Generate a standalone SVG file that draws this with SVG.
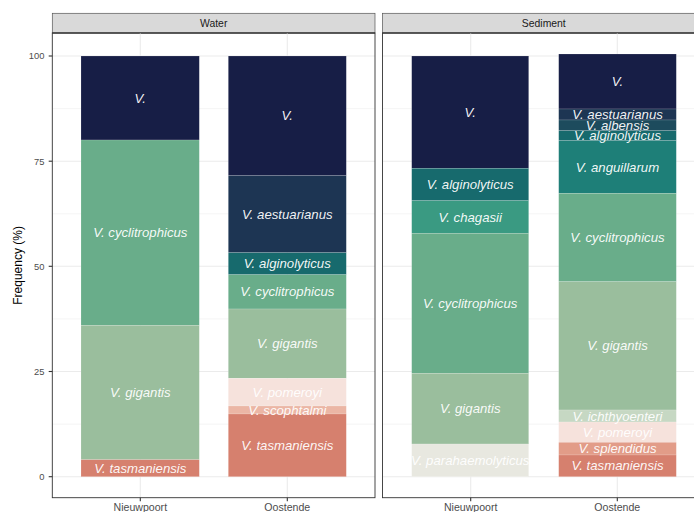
<svg xmlns="http://www.w3.org/2000/svg" width="694" height="512" viewBox="0 0 694 512">
<style>
.bg{fill:#FFFFFF}
.gmaj{stroke:#EBEBEB;stroke-width:1.1;fill:none}
.gmin{stroke:#EBEBEB;stroke-width:0.55;fill:none}
.border{fill:none;stroke:#333333;stroke-width:0.9}
.strip{fill:#D9D9D9;stroke:#555555;stroke-width:0.7}
.strip-line{stroke:#333333;stroke-width:1.2}
.strip-t{font-family:"Liberation Sans",Arial,sans-serif;font-size:10.4px;fill:#1A1A1A;text-anchor:middle}
.tick{stroke:#333333;stroke-width:1.1}
.ytxt{font-family:"Liberation Sans",Arial,sans-serif;font-size:9.4px;fill:#4D4D4D;text-anchor:end}
.xtxt{font-family:"Liberation Sans",Arial,sans-serif;font-size:10.6px;fill:#4D4D4D;text-anchor:middle}
.ttl{font-family:"Liberation Sans",Arial,sans-serif;font-size:12px;fill:#000000;text-anchor:middle}
.seg rect{stroke:#FFFFFF;stroke-opacity:0.3;stroke-width:0.5}
.lbl{font-family:"Liberation Sans",Arial,sans-serif;font-size:13.2px;font-style:italic;fill:#FFFFFF;fill-opacity:0.95;text-anchor:middle;dominant-baseline:central}
.navy{fill:#171E46}.aes{fill:#1D3553}.alb{fill:#1D4B5D}.alg{fill:#176A6D}.ang{fill:#1E7F78}
.cha{fill:#3A9A82}.cyc{fill:#69AD8A}.gig{fill:#9ABE9D}.ich{fill:#C6D8C3}.par{fill:#E8E8E0}
.pom{fill:#F6E2DC}.sco{fill:#EBB6A5}.spl{fill:#E29C88}.tas{fill:#D6806E}
</style>
<rect class="bg" x="0" y="0" width="694" height="512"/>

<!-- Water panel -->
<g id="panel-water">
  <rect class="strip" x="52.3" y="13.3" width="322.7" height="19.7"/>
  <line class="strip-line" x1="52.3" x2="375" y1="33" y2="33"/>
  <text class="strip-t" x="213.7" y="26.7">Water</text>
  <g id="grid-water">
    <line class="gmin" x1="52.3" x2="375" y1="424.1" y2="424.1"/>
    <line class="gmin" x1="52.3" x2="375" y1="318.9" y2="318.9"/>
    <line class="gmin" x1="52.3" x2="375" y1="213.8" y2="213.8"/>
    <line class="gmin" x1="52.3" x2="375" y1="108.6" y2="108.6"/>
    <line class="gmaj" x1="52.3" x2="375" y1="476.7" y2="476.7"/>
    <line class="gmaj" x1="52.3" x2="375" y1="371.5" y2="371.5"/>
    <line class="gmaj" x1="52.3" x2="375" y1="266.3" y2="266.3"/>
    <line class="gmaj" x1="52.3" x2="375" y1="161.2" y2="161.2"/>
    <line class="gmaj" x1="52.3" x2="375" y1="56" y2="56"/>
    <line class="gmaj" x1="140.3" x2="140.3" y1="33" y2="497.7"/>
    <line class="gmaj" x1="287.3" x2="287.3" y1="33" y2="497.7"/>
  </g>
  <g id="bar-water-nieuwpoort" class="seg">
    <rect class="navy" x="81" y="56" width="118.3" height="84"/>
    <rect class="cyc" x="81" y="140" width="118.3" height="185.3"/>
    <rect class="gig" x="81" y="325.3" width="118.3" height="134.4"/>
    <rect class="tas" x="81" y="459.7" width="118.3" height="17"/>
    <text class="lbl" x="140.3" y="98">V.</text>
    <text class="lbl" x="140.3" y="232.7">V. cyclitrophicus</text>
    <text class="lbl" x="140.3" y="392.5">V. gigantis</text>
    <text class="lbl" x="140.3" y="468.2">V. tasmaniensis</text>
  </g>
  <g id="bar-water-oostende" class="seg">
    <rect class="navy" x="228.3" y="56" width="118" height="119.7"/>
    <rect class="aes" x="228.3" y="175.7" width="118" height="77"/>
    <rect class="alg" x="228.3" y="252.7" width="118" height="22"/>
    <rect class="cyc" x="228.3" y="274.7" width="118" height="34.3"/>
    <rect class="gig" x="228.3" y="309" width="118" height="69.3"/>
    <rect class="pom" x="228.3" y="378.3" width="118" height="27.7"/>
    <rect class="sco" x="228.3" y="406" width="118" height="8"/>
    <rect class="tas" x="228.3" y="414" width="118" height="62.7"/>
    <text class="lbl" x="287.3" y="115.8">V.</text>
    <text class="lbl" x="287.3" y="214.2">V. aestuarianus</text>
    <text class="lbl" x="287.3" y="263.7">V. alginolyticus</text>
    <text class="lbl" x="287.3" y="291.8">V. cyclitrophicus</text>
    <text class="lbl" x="287.3" y="343.6">V. gigantis</text>
    <text class="lbl" x="287.3" y="392.9">V. pomeroyi</text>
    <text class="lbl" x="287.3" y="410">V. scophtalmi</text>
    <text class="lbl" x="287.3" y="445.3">V. tasmaniensis</text>
  </g>
  <rect class="border" x="52.3" y="33" width="322.7" height="464.7"/>
</g>

<!-- Sediment panel -->
<g id="panel-sediment">
  <rect class="strip" x="382.5" y="13.3" width="322.7" height="19.7"/>
  <line class="strip-line" x1="382.5" x2="705" y1="33" y2="33"/>
  <text class="strip-t" x="543.8" y="26.7">Sediment</text>
  <g id="grid-sediment">
    <line class="gmin" x1="382.5" x2="705" y1="424.1" y2="424.1"/>
    <line class="gmin" x1="382.5" x2="705" y1="318.9" y2="318.9"/>
    <line class="gmin" x1="382.5" x2="705" y1="213.8" y2="213.8"/>
    <line class="gmin" x1="382.5" x2="705" y1="108.6" y2="108.6"/>
    <line class="gmaj" x1="382.5" x2="705" y1="476.7" y2="476.7"/>
    <line class="gmaj" x1="382.5" x2="705" y1="371.5" y2="371.5"/>
    <line class="gmaj" x1="382.5" x2="705" y1="266.3" y2="266.3"/>
    <line class="gmaj" x1="382.5" x2="705" y1="161.2" y2="161.2"/>
    <line class="gmaj" x1="382.5" x2="705" y1="56" y2="56"/>
    <line class="gmaj" x1="470.7" x2="470.7" y1="33" y2="497.7"/>
    <line class="gmaj" x1="617.3" x2="617.3" y1="33" y2="497.7"/>
  </g>
  <g id="bar-sediment-nieuwpoort" class="seg">
    <rect class="navy" x="411.7" y="56" width="117" height="112.3"/>
    <rect class="alg" x="411.7" y="168.3" width="117" height="32.4"/>
    <rect class="cha" x="411.7" y="200.7" width="117" height="32.6"/>
    <rect class="cyc" x="411.7" y="233.3" width="117" height="140"/>
    <rect class="gig" x="411.7" y="373.3" width="117" height="70.7"/>
    <rect class="par" x="411.7" y="444" width="117" height="32.7"/>
    <text class="lbl" x="470.2" y="112">V.</text>
    <text class="lbl" x="470.2" y="184.5">V. alginolyticus</text>
    <text class="lbl" x="470.2" y="217">V. chagasii</text>
    <text class="lbl" x="470.2" y="303.3">V. cyclitrophicus</text>
    <text class="lbl" x="470.2" y="408.7">V. gigantis</text>
    <text class="lbl" x="470.2" y="460.3">V. parahaemolyticus</text>
  </g>
  <g id="bar-sediment-oostende" class="seg">
    <rect class="navy" x="558.7" y="54" width="117.6" height="55"/>
    <rect class="aes" x="558.7" y="109" width="117.6" height="11"/>
    <rect class="alb" x="558.7" y="120" width="117.6" height="10.7"/>
    <rect class="alg" x="558.7" y="130.7" width="117.6" height="10"/>
    <rect class="ang" x="558.7" y="140.7" width="117.6" height="52.6"/>
    <rect class="cyc" x="558.7" y="193.3" width="117.6" height="88.4"/>
    <rect class="gig" x="558.7" y="281.7" width="117.6" height="128.3"/>
    <rect class="ich" x="558.7" y="410" width="117.6" height="12"/>
    <rect class="pom" x="558.7" y="422" width="117.6" height="20.3"/>
    <rect class="spl" x="558.7" y="442.3" width="117.6" height="12.7"/>
    <rect class="tas" x="558.7" y="455" width="117.6" height="21.7"/>
    <text class="lbl" x="617.5" y="81.5">V.</text>
    <text class="lbl" x="617.5" y="114.5">V. aestuarianus</text>
    <text class="lbl" x="617.5" y="125.3">V. albensis</text>
    <text class="lbl" x="617.5" y="135.7">V. alginolyticus</text>
    <text class="lbl" x="617.5" y="167">V. anguillarum</text>
    <text class="lbl" x="617.5" y="237.5">V. cyclitrophicus</text>
    <text class="lbl" x="617.5" y="345.8">V. gigantis</text>
    <text class="lbl" x="617.5" y="416">V. ichthyoenteri</text>
    <text class="lbl" x="617.5" y="432.2">V. pomeroyi</text>
    <text class="lbl" x="617.5" y="448.7">V. splendidus</text>
    <text class="lbl" x="617.5" y="465.8">V. tasmaniensis</text>
  </g>
  <rect class="border" x="382.5" y="33" width="322.7" height="464.7"/>
</g>

<!-- Axes -->
<g id="y-axis">
  <line class="tick" x1="48.7" x2="52.3" y1="476.7" y2="476.7"/>
  <line class="tick" x1="48.7" x2="52.3" y1="371.5" y2="371.5"/>
  <line class="tick" x1="48.7" x2="52.3" y1="266.3" y2="266.3"/>
  <line class="tick" x1="48.7" x2="52.3" y1="161.2" y2="161.2"/>
  <line class="tick" x1="48.7" x2="52.3" y1="56" y2="56"/>
  <text class="ytxt" x="44.5" y="480">0</text>
  <text class="ytxt" x="44.5" y="374.8">25</text>
  <text class="ytxt" x="44.5" y="269.6">50</text>
  <text class="ytxt" x="44.5" y="164.5">75</text>
  <text class="ytxt" x="44.5" y="59.3">100</text>
  <text class="ttl" x="0" y="0" transform="translate(22,265.4) rotate(-90)">Frequency (%)</text>
</g>
<g id="x-axis">
  <line class="tick" x1="140.3" x2="140.3" y1="497.7" y2="501.3"/>
  <line class="tick" x1="287.3" x2="287.3" y1="497.7" y2="501.3"/>
  <line class="tick" x1="470.7" x2="470.7" y1="497.7" y2="501.3"/>
  <line class="tick" x1="617.3" x2="617.3" y1="497.7" y2="501.3"/>
  <text class="xtxt" x="140.3" y="511">Nieuwpoort</text>
  <text class="xtxt" x="287.3" y="511">Oostende</text>
  <text class="xtxt" x="470.7" y="511">Nieuwpoort</text>
  <text class="xtxt" x="617.3" y="511">Oostende</text>
</g>
</svg>
